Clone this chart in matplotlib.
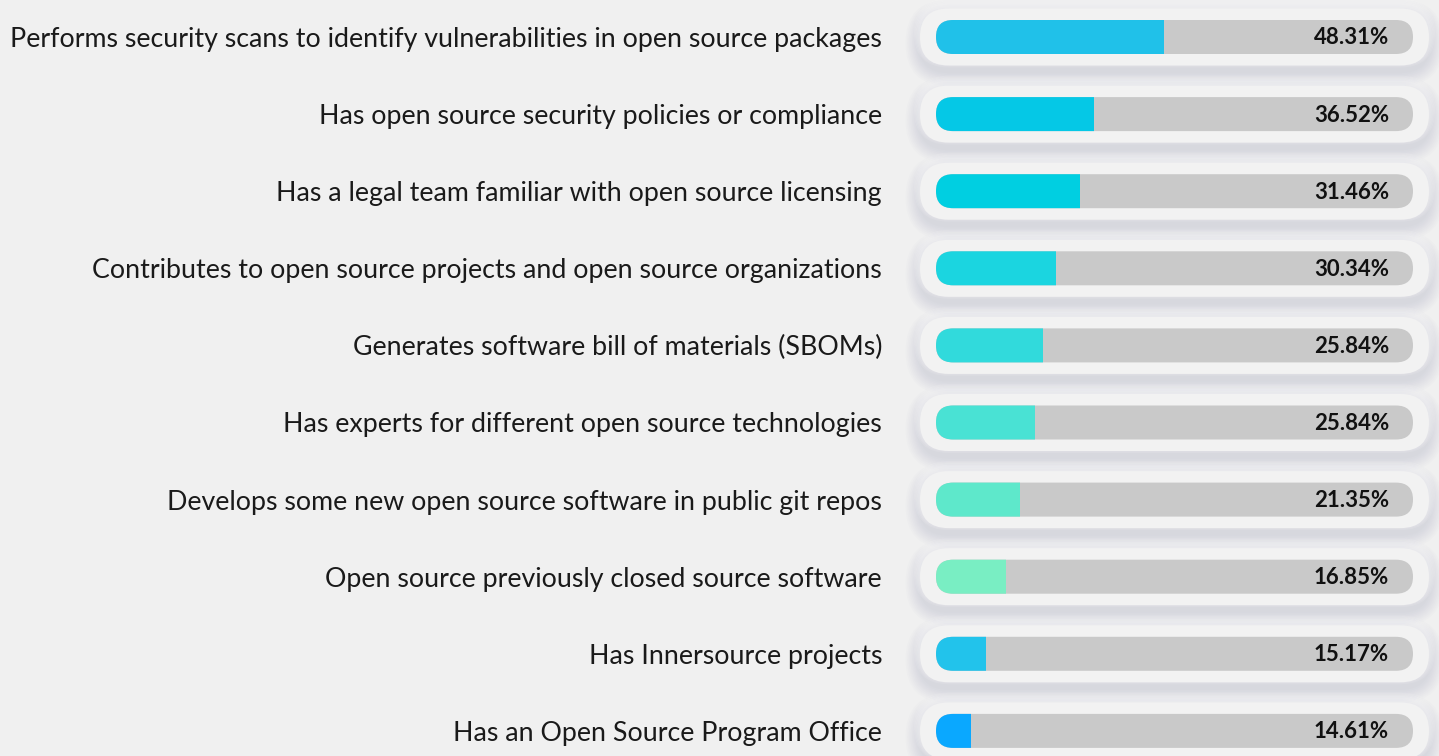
import matplotlib.pyplot as plt
from matplotlib.patches import FancyBboxPatch, Rectangle

labels = [
    "Performs security scans to identify vulnerabilities in open source packages",
    "Has open source security policies or compliance",
    "Has a legal team familiar with open source licensing",
    "Contributes to open source projects and open source organizations",
    "Generates software bill of materials (SBOMs)",
    "Has experts for different open source technologies",
    "Develops some new open source software in public git repos",
    "Open source previously closed source software",
    "Has Innersource projects",
    "Has an Open Source Program Office",
]
values = [48.31, 36.52, 31.46, 30.34, 25.84, 25.84, 21.35, 16.85, 15.17, 14.61]
# drawn fill length (% of track) as it appears in the original graphic
fill_len = [47.8, 33.1, 30.2, 25.2, 22.4, 20.8, 17.6, 14.7, 10.5, 7.3]
colors = ["#20c1e9", "#05c8e6", "#00cfe1", "#1bd5e0", "#31dadc",
          "#49e2d4", "#5ee8cb", "#79eec3", "#22c3eb", "#0aa8ff"]

W, H = 1439, 756
bg = "#f0f0f0"
fig = plt.figure(figsize=(W / 100, H / 100), dpi=100, facecolor=bg)

# axes spans the grey track horizontally, full height vertically
x0, x1 = 936, 1413
ax = fig.add_axes([x0 / W, 0, (x1 - x0) / W, 1])
ax.set_facecolor("none")
row_h = 77.1
top_c = 37
n = len(labels)
ax.set_xlim(0, 100)
ax.set_ylim(n - 1 + (H - top_c - (n - 1) * row_h) / row_h, -top_c / row_h)

sx = (x1 - x0) / 100.0  # px per x unit
sy = row_h              # px per y unit
asp = sx / sy


def pill(xa, xb, yc, hpx, r, **kw):
    p = FancyBboxPatch((xa, yc - hpx / 2 / sy), xb - xa, hpx / sy,
                       boxstyle="round,pad=0,rounding_size=%f" % (r / sx),
                       mutation_aspect=asp, linewidth=0, clip_on=False, **kw)
    ax.add_patch(p)
    return p


cx0 = (920 - x0) / sx
cx1 = (1429 - x0) / sx
for i in range(n):
    y = i
    # soft shadow below and light above the container
    for k in range(9, 0, -1):
        g = k * 1.6
        pill(cx0 - g / sx, cx1 + g / sx, y + 6 / sy, 57 + 2 * g, 28.5 + g,
             facecolor="#aeb2c6", alpha=0.045)
    for k in range(5, 0, -1):
        g = k * 1.2
        pill(cx0 - g / sx, cx1 + g / sx, y - 4 / sy, 57 + 2 * g, 28.5 + g,
             facecolor="white", alpha=0.1)
    pill(cx0, cx1, y, 57, 28.5, facecolor="#f2f2f2")
    # grey track
    pill(0, 100, y, 34, 17, facecolor="#c9c9c9")
    # coloured fill, rounded on the left only (clip the right end square)
    f = fill_len[i]
    p = pill(0, f + 40 / sx, y, 34, 17, facecolor=colors[i])
    clip = Rectangle((0, y - 20 / sy), f, 40 / sy, transform=ax.transData)
    p.set_clip_on(True)
    p.set_clip_path(clip)
    ax.text(100 - 24 / sx, y + 1 / sy, f"{values[i]:.2f}%", ha="right", va="center",
            fontsize=16, fontweight="bold", family="Lato", color="#111111")

ax.set_yticks(range(n))
ax.set_yticklabels(labels, fontsize=19.3, family="Lato", color="#1a1a1a")
ax.tick_params(axis="y", length=0, pad=54 / 1.389)
ax.set_xticks([])
for s in ax.spines.values():
    s.set_visible(False)

fig.savefig("out.png", dpi=100, facecolor=bg)
